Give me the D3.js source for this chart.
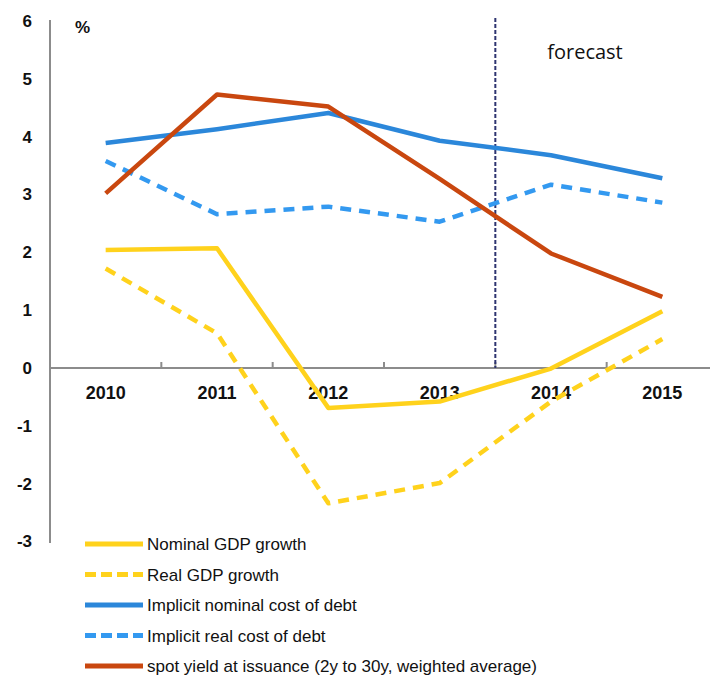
<!DOCTYPE html>
<html>
<head>
<meta charset="utf-8">
<script src="https://cdn.jsdelivr.net/npm/d3@7"></script>
<style>
  body { margin: 0; background: #fff; }
  svg { display: block; }
  svg text { font-family: "Liberation Sans", Arial, sans-serif; }
</style>
</head>
<body>
<div id="chart"></div>
<script>
// chart data
const years = ["2010", "2011", "2012", "2013", "2014", "2015"]
const nominalGdp = [2.04, 2.07, -0.69, -0.58, -0.01, 0.98]
const realGdp = [1.72, 0.6, -2.34, -1.99, -0.58, 0.5]
const nominalCost = [3.89, 4.13, 4.41, 3.93, 3.68, 3.28]
const realCost = [3.58, 2.66, 2.79, 2.53, 3.17, 2.86]
const spotYield = [3.02, 4.73, 4.52, 3.27, 1.98, 1.23]
const yTicks = [-3, -2, -1, 0, 1, 2, 3, 4, 5, 6]
const forecastStart = "2014"

const series = [
  {name: "Nominal GDP growth", values: nominalGdp, color: "#ffd21c", dash: null},
  {name: "Real GDP growth", values: realGdp, color: "#ffd21c", dash: "11,8"},
  {name: "Implicit nominal cost of debt", values: nominalCost, color: "#2b87da", dash: null},
  {name: "Implicit real cost of debt", values: realCost, color: "#3399f0", dash: "11,8"},
  {name: "spot yield at issuance (2y to 30y, weighted average)", values: spotYield, color: "#c9470f", dash: null}
]

const width = 710
const height = 677

const svg = d3.select("#chart")
  .append("svg")
  .attr("width", width)
  .attr("height", height)

const xScale = d3.scaleBand().domain(years).range([50, 718])
const yScale = d3.scaleLinear().domain([-3, 6]).range([541.5, 21])

// left axis, labels only plus the grey line
const yAxis = svg.append("g")
  .attr("transform", "translate(50,0)")
  .call(d3.axisLeft(yScale).tickValues(yTicks).tickSize(0).tickPadding(18).tickFormat(d => String(d)))
yAxis.attr("font-family", null).attr("font-size", null)
yAxis.select(".domain").remove()
yAxis.selectAll("text")
  .style("font-size", "17px")
  .style("font-weight", "bold")
  .style("fill", "#111")

svg.append("line")
  .attr("x1", 50).attr("x2", 50)
  .attr("y1", 20).attr("y2", 543)
  .style("stroke", "#8c8c8c")
  .style("stroke-width", 2)

// bottom axis at zero
const xAxis = svg.append("g")
  .attr("transform", `translate(0,${yScale(0)})`)
  .call(d3.axisBottom(xScale).tickSize(0).tickPadding(18))
xAxis.attr("font-family", null).attr("font-size", null)
xAxis.select(".domain").remove()
xAxis.selectAll("text")
  .style("font-size", "18px")
  .style("font-weight", "bold")
  .style("fill", "#111")

svg.append("line")
  .attr("x1", 50).attr("x2", width)
  .attr("y1", yScale(0)).attr("y2", yScale(0))
  .style("stroke", "#8c8c8c")
  .style("stroke-width", 2)

// tick marks between categories, pointing up
svg.selectAll(".boundary")
  .data(years.slice(1))
  .enter()
  .append("line")
  .attr("class", "boundary")
  .attr("x1", d => xScale(d)).attr("x2", d => xScale(d))
  .attr("y1", yScale(0)).attr("y2", yScale(0) - 6)
  .style("stroke", "#8c8c8c")
  .style("stroke-width", 2)

// forecast divider
svg.append("line")
  .attr("x1", xScale(forecastStart)).attr("x2", xScale(forecastStart))
  .attr("y1", 18).attr("y2", yScale(0))
  .style("stroke", "#2e3470")
  .style("stroke-width", 2)
  .style("stroke-dasharray", "4,2")

svg.append("text")
  .attr("x", 585)
  .attr("y", 59)
  .attr("text-anchor", "middle")
  .style("font-family", "'Open Sans'")
  .style("font-size", "20px")
  .style("fill", "#111")
  .text("forecast")

svg.append("text")
  .attr("x", 75)
  .attr("y", 33)
  .style("font-size", "17px")
  .style("font-weight", "bold")
  .style("fill", "#111")
  .text("%")

const line = d3.line()
  .x((d, i) => xScale(years[i]) + xScale.bandwidth() / 2)
  .y(d => yScale(d))

svg.selectAll(".series")
  .data(series)
  .enter()
  .append("path")
  .attr("class", "series")
  .attr("d", d => line(d.values))
  .style("fill", "none")
  .style("stroke", d => d.color)
  .style("stroke-width", 4.5)
  .style("stroke-linejoin", "round")
  .style("stroke-dasharray", d => d.dash)

// legend
const legend = svg.selectAll(".legend")
  .data(series)
  .enter()
  .append("g")
  .attr("class", "legend")
  .attr("transform", (d, i) => `translate(0,${544 + i * 30.5})`)

legend.append("line")
  .attr("x1", 85).attr("x2", 143)
  .attr("y1", 0).attr("y2", 0)
  .style("stroke", d => d.color)
  .style("stroke-width", 5)
  .style("stroke-dasharray", d => d.dash ? "11,5" : null)

legend.append("text")
  .attr("x", 147)
  .attr("y", 6)
  .style("font-size", "17px")
  .style("fill", "#111")
  .text(d => d.name)
</script>
</body>
</html>
